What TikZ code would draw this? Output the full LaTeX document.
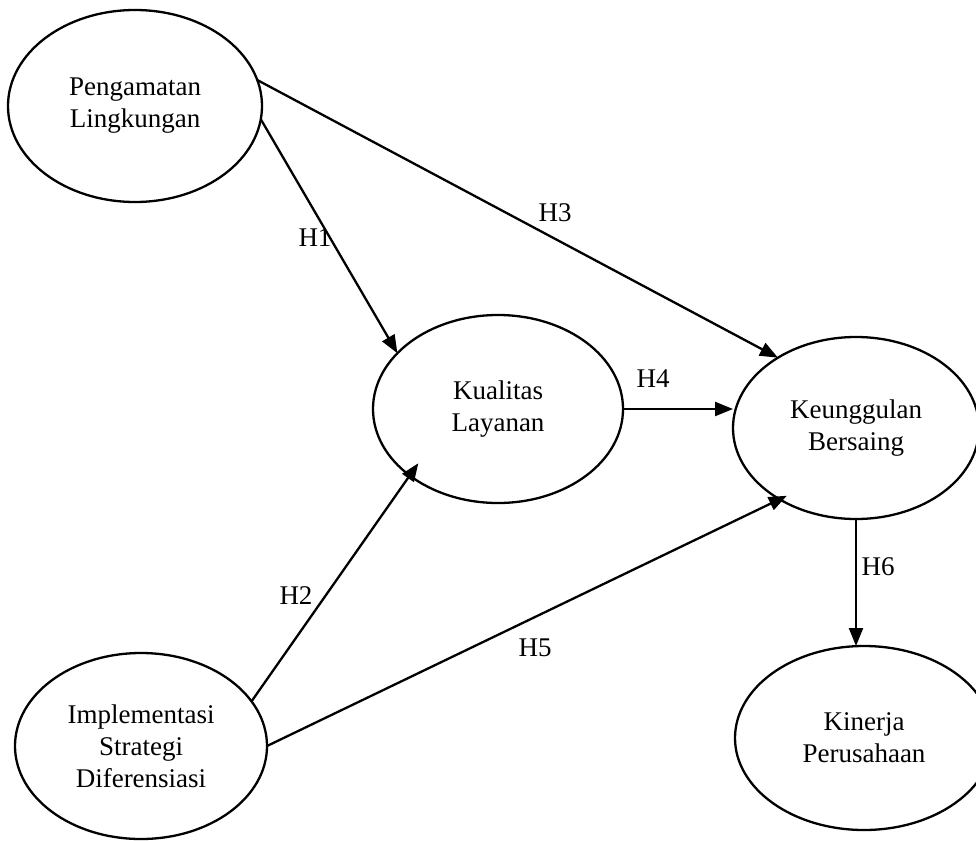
\documentclass[tikz,border=0pt]{standalone}
\usepackage{fontspec}
\setmainfont{Liberation Serif}
\usetikzlibrary{shapes.geometric,arrows.meta,calc}
\begin{document}
\begin{tikzpicture}[x=1pt,y=-1pt,
  every node/.style={font=\fontsize{27}{32}\selectfont},
  latent/.style={draw,ellipse,line width=2.3pt,inner sep=0pt,outer sep=0pt,align=center},
  arr/.style={line width=2.3pt,-{Triangle[length=18pt,width=14pt]}},
  hlab/.style={inner sep=0pt}]
\useasboundingbox (0,0) rectangle (976,840);
\clip (0,0) rectangle (976,840);
\node[latent,minimum width=254pt,minimum height=192pt] (pl) at (135,106) {Pengamatan\\Lingkungan};
\node[latent,minimum width=250pt,minimum height=188pt] (ku) at (498,409) {Kualitas\\Layanan};
\node[latent,minimum width=246pt,minimum height=182pt] (kb) at (856,428) {Keunggulan\\Bersaing};
\node[latent,minimum width=252pt,minimum height=186pt] (im) at (141,746) {Implementasi\\Strategi\\Diferensiasi};
\node[latent,minimum width=258pt,minimum height=184pt] (kn) at (864,738) {Kinerja\\Perusahaan};
\draw[arr] (pl.-6) -- (ku.151);
\draw[arr] (pl.12) -- (kb.138);
\draw[arr] (ku.east) -- (ku.east -| kb.west);
\draw[arr] (im.22) -- ($(ku.-143)!-15pt!(im.22)$);
\draw[arr] (im.0) -- ($(kb.-137)!-8pt!(im.0)$);
\draw[arr] (kb.south) -- (kb.south |- kn.north);
\node[hlab] (h1) at (315,238) {H1};
\node[hlab] (h3) at (555,213) {H3};
\node[hlab] (h4) at (653,379) {H4};
\node[hlab] (h2) at (296,596) {H2};
\node[hlab] (h5) at (535,648) {H5};
\node[hlab] (h6) at (878,567) {H6};
\end{tikzpicture}
\end{document}
